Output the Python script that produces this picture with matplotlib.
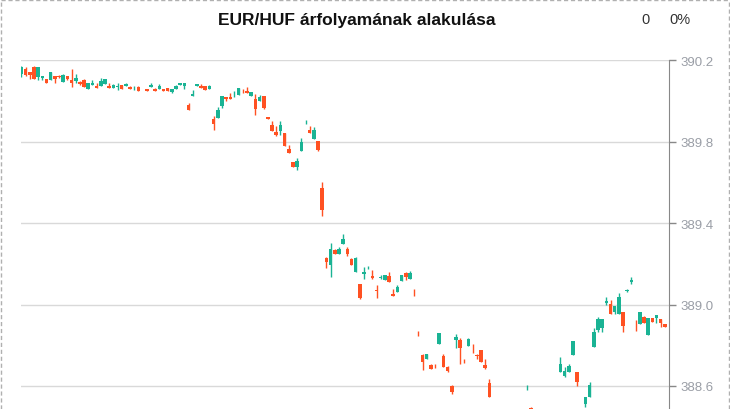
import matplotlib
matplotlib.use('Agg')
import matplotlib.pyplot as plt
from matplotlib.lines import Line2D

plt.rcParams['font.family'] = ['Liberation Sans', 'DejaVu Sans']

# időpontok (perc sorszám) - a hiányzó perceknél nincs gyertya
idopont = (list(range(0, 29)) + list(range(30, 113)) + [121, 122]
           + list(range(129, 134)) + list(range(135, 155)))

nyito = [390.131, 390.156, 390.141, 390.166, 390.117, 390.112, 390.107, 390.102, 390.121, 390.120,
         390.092, 390.121, 390.102, 390.097, 390.092, 390.102, 390.058, 390.077, 390.072, 390.072,
         390.082, 390.072, 390.063, 390.070, 390.077, 390.072, 390.067, 390.062, 390.067,
         390.058, 390.067, 390.058, 390.058, 390.058, 390.063, 390.043, 390.058, 390.077, 390.072,
         389.979, 390.023, 390.072, 390.072, 390.072, 390.058, 389.910, 389.915, 389.974, 390.018,
         390.018, 390.030, 390.028, 390.050, 390.048, 390.023, 390.009, 389.999, 390.023, 389.920,
         389.881, 389.847, 389.852, 389.842, 389.763, 389.699, 389.675, 389.753, 389.895, 389.856,
         389.812, 389.802, 389.572, 389.228, 389.194, 389.267, 389.248, 389.297, 389.272, 389.223,
         389.160, 389.101, 389.150, 389.180, 389.140, 389.071, 389.132, 389.120, 389.140, 389.052,
         389.061, 389.115, 389.155, 389.125, 389.070, 388.862, 388.752, 388.733, 388.703, 388.700,
         388.806, 388.747, 388.693, 388.600, 388.826, 388.826, 388.725, 388.796, 388.800, 388.750,
         388.777, 388.703, 388.615, 388.590, 388.492,
         388.669, 388.649, 388.669, 388.752, 388.669,
         388.512, 388.546, 388.791, 388.875, 388.885, 389.007, 389.002, 388.963, 388.953, 388.963,
         389.068, 389.110, 388.920, 388.904, 388.939, 388.850, 388.934, 388.934, 388.929, 388.904]

maximum = [390.171, 390.166, 390.141, 390.171, 390.166, 390.121, 390.107, 390.141, 390.121, 390.126,
           390.131, 390.121, 390.156, 390.131, 390.097, 390.107, 390.087, 390.102, 390.087, 390.112,
           390.107, 390.087, 390.082, 390.087, 390.077, 390.087, 390.072, 390.072, 390.072,
           390.058, 390.087, 390.063, 390.082, 390.058, 390.063, 390.058, 390.077, 390.087, 390.087,
           389.989, 390.053, 390.082, 390.082, 390.072, 390.077, 389.925, 389.969, 390.023, 390.018,
           390.038, 390.048, 390.063, 390.058, 390.067, 390.043, 390.033, 390.028, 390.023, 389.920,
           389.901, 389.876, 389.901, 389.842, 389.783, 389.699, 389.719, 389.817, 389.906, 389.876,
           389.871, 389.802, 389.601, 389.233, 389.302, 389.272, 389.282, 389.346, 389.282, 389.228,
           389.233, 389.101, 389.184, 389.189, 389.169, 389.096, 389.145, 389.145, 389.160, 389.076,
           389.096, 389.145, 389.160, 389.164, 389.076, 388.870, 388.757, 388.757, 388.708, 388.708,
           388.860, 388.757, 388.698, 388.605, 388.855, 388.836, 388.733, 388.836, 388.806, 388.757,
           388.777, 388.733, 388.634, 388.605, 388.497,
           388.742, 388.693, 388.708, 388.821, 388.669,
           388.546, 388.620, 388.885, 388.939, 388.929, 389.037, 389.022, 388.993, 389.056, 388.963,
           389.076, 389.135, 388.924, 388.963, 388.944, 388.934, 388.934, 388.948, 388.929, 388.904]

minimum = [390.117, 390.121, 390.107, 390.107, 390.102, 390.102, 390.087, 390.102, 390.087, 390.112,
           390.092, 390.102, 390.067, 390.087, 390.077, 390.067, 390.058, 390.077, 390.063, 390.072,
           390.082, 390.063, 390.063, 390.053, 390.058, 390.072, 390.058, 390.053, 390.048,
           390.048, 390.067, 390.048, 390.058, 390.048, 390.048, 390.038, 390.058, 390.077, 390.058,
           389.955, 390.023, 390.072, 390.063, 390.053, 390.058, 389.856, 389.915, 389.964, 389.999,
           390.009, 390.018, 390.028, 390.038, 390.038, 390.023, 389.930, 389.999, 389.960, 389.910,
           389.852, 389.827, 389.832, 389.778, 389.744, 389.675, 389.660, 389.753, 389.886, 389.842,
           389.812, 389.753, 389.434, 389.179, 389.135, 389.248, 389.248, 389.297, 389.238, 389.194,
           389.160, 389.027, 389.125, 389.174, 389.125, 389.032, 389.125, 389.120, 389.110, 389.042,
           389.061, 389.115, 389.120, 389.125, 389.042, 388.845, 388.679, 388.733, 388.683, 388.688,
           388.806, 388.693, 388.669, 388.561, 388.787, 388.708, 388.713, 388.796, 388.762, 388.733,
           388.718, 388.683, 388.546, 388.580, 388.477,
           388.669, 388.644, 388.669, 388.752, 388.600,
           388.497, 388.546, 388.791, 388.865, 388.865, 388.998, 388.953, 388.953, 388.953, 388.865,
           389.061, 389.101, 388.870, 388.904, 388.909, 388.850, 388.914, 388.909, 388.890, 388.890]

zaro = [390.166, 390.126, 390.126, 390.107, 390.166, 390.121, 390.087, 390.141, 390.107, 390.119,
        390.126, 390.107, 390.087, 390.112, 390.082, 390.067, 390.087, 390.087, 390.063, 390.097,
        390.107, 390.063, 390.077, 390.071, 390.058, 390.082, 390.058, 390.063, 390.048,
        390.048, 390.077, 390.048, 390.072, 390.048, 390.048, 390.058, 390.072, 390.087, 390.087,
        389.955, 390.033, 390.082, 390.063, 390.053, 390.072, 389.886, 389.955, 390.023, 390.009,
        390.009, 390.031, 390.063, 390.049, 390.038, 390.043, 389.960, 390.018, 389.964, 389.910,
        389.852, 389.832, 389.881, 389.778, 389.744, 389.675, 389.704, 389.798, 389.896, 389.842,
        389.856, 389.758, 389.464, 389.209, 389.272, 389.248, 389.272, 389.322, 389.248, 389.194,
        389.228, 389.032, 389.160, 389.181, 389.130, 389.066, 389.133, 389.145, 389.110, 389.042,
        389.086, 389.145, 389.135, 389.155, 389.069, 388.861, 388.718, 388.757, 388.683, 388.699,
        388.860, 388.693, 388.674, 388.571, 388.840, 388.787, 388.724, 388.831, 388.799, 388.749,
        388.718, 388.688, 388.546, 388.591, 388.482,
        388.708, 388.674, 388.698, 388.821, 388.620,
        388.546, 388.605, 388.865, 388.929, 388.929, 389.017, 388.953, 388.993, 389.037, 388.894,
        389.069, 389.120, 388.919, 388.963, 388.909, 388.934, 388.914, 388.948, 388.909, 388.890]

y_tickek = [388.6, 389.0, 389.4, 389.8, 390.2]

ZOLD = '#1ab394'
PIROS = '#ff5122'

fig = plt.figure(figsize=(7.3, 4.1), dpi=100)
ax = fig.add_axes([21 / 730, 0, 648 / 730, 1 - 61 / 410])

szinek = [ZOLD if c >= o else PIROS for o, c in zip(nyito, zaro)]
also = [min(o, c) for o, c in zip(nyito, zaro)]
magas = [abs(c - o) for o, c in zip(nyito, zaro)]

ax.vlines(idopont, minimum, maximum, colors=szinek, linewidth=1, zorder=2)
ax.bar(idopont, magas, bottom=also, width=0.85, color=szinek, linewidth=0, zorder=3)

ax.set_xlim(-0.1, 155.0)
ax.set_ylim(388.487, 390.201)

ax.yaxis.tick_right()
ax.set_yticks(y_tickek)
ax.set_yticklabels(['%.1f' % t for t in y_tickek])
ax.set_xticks([])
ax.tick_params(axis='y', colors='#888888', labelcolor='#9a9ea6', length=5,
               width=1, labelsize=9.5, pad=3)
for s in ['left', 'top', 'bottom']:
    ax.spines[s].set_visible(False)
ax.spines['right'].set_color('#888888')
ax.grid(axis='y', color='#d9d9d9', linewidth=1)
ax.set_axisbelow(True)

fig.text(357 / 730, 1 - 20 / 410, 'EUR/HUF árfolyamának alakulása', ha='center',
         va='center', fontsize=12.5, fontweight='bold', color='#111111')
fig.text(645 / 730, 1 - 20 / 410, '0', ha='center', va='center', fontsize=10.5, color='#333333')
fig.text(680 / 730, 1 - 20 / 410, '0%', ha='center', va='center', fontsize=10.5, color='#333333')

# szaggatott keret
keret = dict(color='#b0b0b0', linewidth=1, linestyle=(0, (3, 2)))
fig.add_artist(Line2D([0.002, 0.998], [0.997, 0.997], **keret))
fig.add_artist(Line2D([0.002, 0.002], [0, 0.997], **keret))
fig.add_artist(Line2D([0.998, 0.998], [0, 0.997], **keret))

fig.savefig('out.png', dpi=100)
